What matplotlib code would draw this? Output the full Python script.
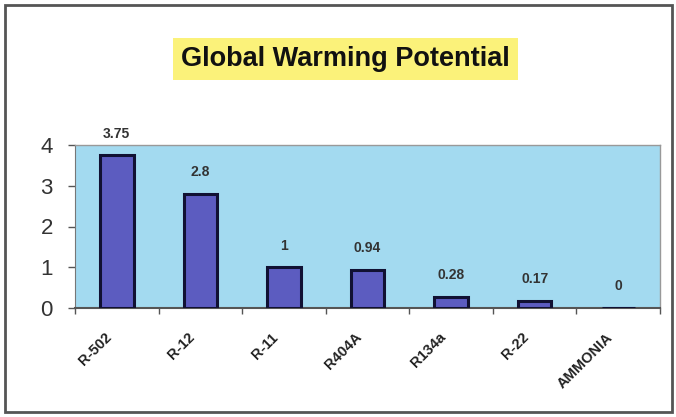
import matplotlib.pyplot as plt
import numpy as np
from matplotlib.patches import Rectangle

refrigerants = ['R-502', 'R-12', 'R-11', 'R404A', 'R134a', 'R-22', 'AMMONIA']
gwp = [3.75, 2.8, 1, 0.94, 0.28, 0.17, 0]
value_labels = ['3.75', '2.8', '1', '0.94', '0.28', '0.17', '0']
yticks = [0, 1, 2, 3, 4]

plt.rcParams['font.family'] = ['Liberation Sans', 'DejaVu Sans']

fig = plt.figure(figsize=(6.76, 4.17), dpi=100)
fig.patch.set_facecolor('white')

# outer frame around the whole chart
fig.add_artist(Rectangle((5/676, 5/417), 667/676, 407/417, transform=fig.transFigure,
                         fill=False, edgecolor='#555555', linewidth=2))

ax = fig.add_axes([75/676, 1 - 308/417, 585/676, 163/417])
ax.set_facecolor('#a3daf0')

x = np.arange(len(refrigerants))
ax.bar(x, gwp, width=0.4, color='#5c5cc0', edgecolor='#111133', linewidth=2.2, zorder=3)

for xi, v, lab in zip(x, gwp, value_labels):
    ax.annotate(lab, xy=(xi, v), xytext=(0, 10.5), textcoords='offset points',
                ha='center', va='bottom', fontsize=10, fontweight='bold', color='#333333')

ax.set_xlim(-0.5, len(refrigerants) - 0.5)
ax.set_ylim(0, 4)
ax.set_yticks(yticks)
ax.set_yticklabels([str(t) for t in yticks], fontsize=16, color='#333333')
ax.tick_params(axis='y', length=5, width=1, color='#555555', pad=11)

# category names, rotated, below the axis
ax.set_xticks(x)
ax.set_xticklabels([])
ax.tick_params(axis='x', which='major', length=0)
for xi, lab in zip(x, refrigerants):
    ax.annotate(lab, xy=(xi, 0), xytext=(-9, -16), textcoords='offset points',
                rotation=45, rotation_mode='anchor', ha='right', va='top',
                fontsize=10.5, fontweight='bold', color='#222222', annotation_clip=False)
ax.set_xticks(np.arange(-0.5, len(refrigerants)), minor=True)
ax.tick_params(axis='x', which='minor', length=4, width=1, color='#555555')

for side in ['top', 'right']:
    ax.spines[side].set_color('#999999')
    ax.spines[side].set_linewidth(1)
ax.spines['left'].set_color('#777777')
ax.spines['bottom'].set_color('#555555')
ax.spines['bottom'].set_linewidth(1.5)

fig.text(345/676, 1 - 59/417, 'Global Warming Potential', ha='center', va='center',
         fontsize=19.5, fontweight='bold', color='#111111',
         bbox=dict(boxstyle='square,pad=0.3', facecolor='#fbf27a', edgecolor='none'))

fig.savefig('out.png', dpi=100)
